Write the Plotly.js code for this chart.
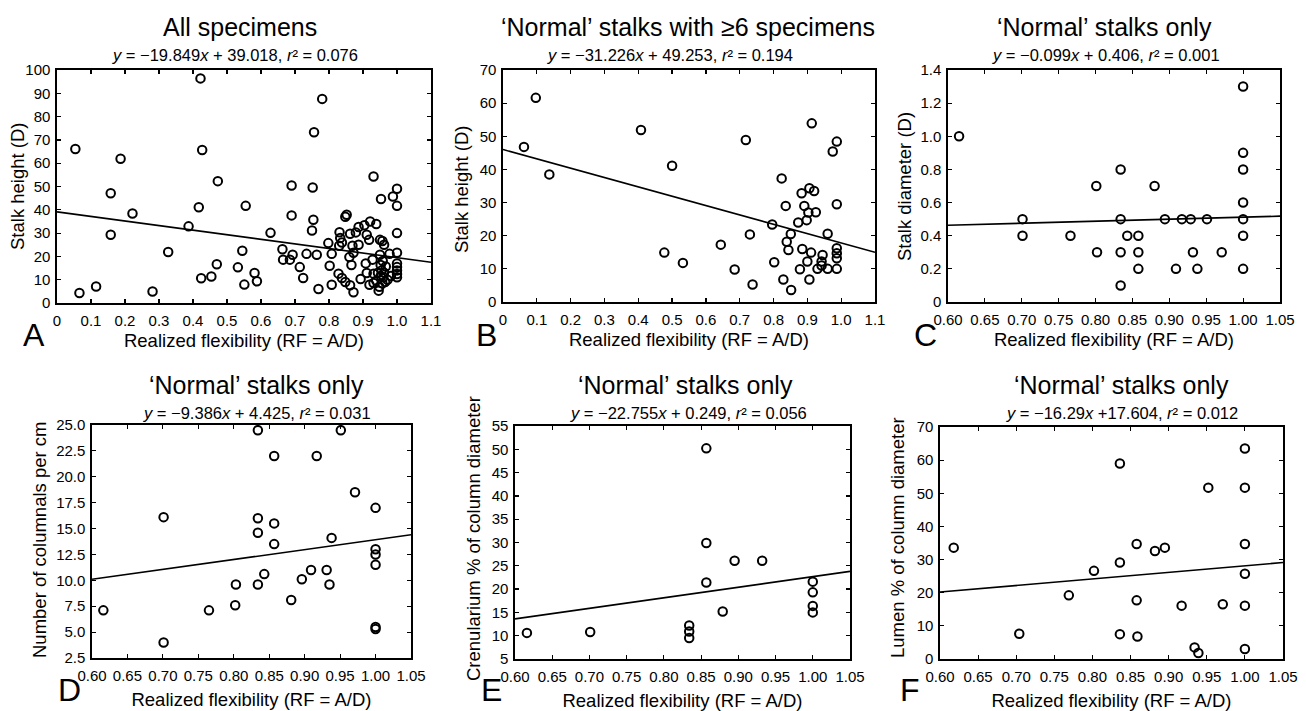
<!DOCTYPE html>
<html>
<head>
<meta charset="utf-8">
<script src="https://cdn.plot.ly/plotly-3.0.1.min.js"></script>
<style>html,body{margin:0;padding:0;background:#fff;}#chart{width:1306px;height:711px;}</style>
</head>
<body>
<div id="chart"></div>
<script>
// ---------- DATA ----------
const aX = [0.054,0.066,0.115,0.158,0.158,0.187,0.222,0.281,0.327,0.387,0.417,0.422,0.424,0.427,0.454,0.470,0.473,0.532,0.545,0.551,0.555,0.581,0.588,0.628,0.663,0.665,0.685,
  0.690,0.690,0.693,0.714,0.724,0.734,0.750,0.754,0.752,0.756,0.764,0.769,0.780,0.798,0.802,0.808,0.808,0.828,0.830,0.831,0.833,0.838,0.838,0.848,0.848,0.852,0.860,0.862,0.862,0.866,0.869,0.872,0.872,0.879,0.887,0.887,0.893,0.904,0.908,0.911,0.911,0.918,0.919,0.921,0.928,0.931,0.931,0.931,0.939,0.939,0.946,0.950,0.950,0.952,0.952,0.953,0.957,0.957,0.962,0.962,0.967,0.972,0.978,0.982,0.988,1.0,1.0,1.0,1.0,1.0,1.0,1.0,1.0,1.0,
  0.944,0.948,0.955,0.958,0.960,0.965];
const aY = [66.1,4.3,7.1,47.1,29.3,61.9,38.4,4.9,21.9,32.9,41.1,96.4,10.6,65.7,11.4,16.6,52.3,15.3,22.4,7.9,41.7,12.9,9.3,30.1,23.1,18.6,18.6,
  50.4,37.6,20.7,15.4,10.7,21.1,31.1,35.7,49.6,73.3,20.7,6.0,87.6,25.7,16.0,21.1,7.8,12.6,24.6,30.4,27.9,26.0,10.7,9.0,37.0,37.9,19.7,29.7,7.6,16.3,24.6,21.6,4.6,30.3,32.6,25.0,10.3,33.4,17.0,29.3,12.9,27.1,7.8,35.0,18.6,54.3,12.6,8.6,33.9,9.6,5.3,27.1,20.7,16.3,11.6,44.6,26.6,8.5,25.0,13.0,15.7,10.0,21.1,11.6,45.7,49.0,41.7,30.0,21.6,17.0,15.4,14.0,12.4,11.0,
  13.0,7.0,14.0,18.0,11.0,9.0];
const aFitX = [0, 1.1];
const aFitY = [39.1, 17.5];

const bX = [0.062,0.097,0.137,0.408,0.477,0.500,0.532,0.644,0.685,
  0.718,0.730,0.738,0.796,0.802,0.824,0.829,0.836,0.839,0.844,0.851,0.852,0.873,0.878,0.883,0.885,0.891,0.898,0.900,0.903,0.906,0.906,0.911,0.913,0.920,0.925,0.930,0.942,0.942,0.945,0.960,0.960,0.975,0.987,0.987,0.987,0.987,0.987,0.987];
const bY = [46.8,61.6,38.5,51.9,14.9,41.1,11.8,17.3,9.8,
  48.9,20.4,5.3,23.4,12.0,37.3,6.8,29.0,18.2,15.7,20.5,3.6,24.0,9.9,32.8,16.0,29.0,24.7,12.2,27.0,34.3,6.8,14.9,53.9,33.5,27.1,10.0,12.2,11.0,14.2,20.6,10.0,45.4,48.4,29.5,16.2,14.7,13.2,10.0];
const bFitX = [0, 1.1];
const bFitY = [46.0, 15.0];

const cX = [0.615,0.701,0.701,0.766,0.801,0.802,0.834,0.834,0.834,0.834,0.843,0.858,0.858,0.858,0.880,0.894,0.909,0.917,0.929,0.932,0.938,0.951,0.971,1.0,1.0,1.0,1.0,1.0,1.0,1.0];
const cY = [1.0,0.5,0.4,0.4,0.7,0.3,0.8,0.5,0.3,0.1,0.4,0.4,0.3,0.2,0.7,0.5,0.2,0.5,0.5,0.3,0.2,0.5,0.3,1.3,0.9,0.8,0.6,0.5,0.4,0.2];
const cFitX = [0.6, 1.05];
const cFitY = [0.463, 0.518];

const dX = [0.616,0.701,0.701,0.765,0.802,0.803,0.834,0.834,0.834,0.834,0.843,0.857,0.857,0.857,0.881,0.896,0.909,0.917,0.931,0.935,0.938,0.951,0.971,1.0,1.0,1.0,1.0,1.0,1.0];
const dY = [7.1,16.1,4.0,7.1,7.6,9.6,24.5,16.0,14.6,9.6,10.6,22.0,15.5,13.5,8.1,10.1,11.0,22.0,11.0,9.6,14.1,24.5,18.5,17.0,13.0,12.5,11.5,5.5,5.3];
const dFitX = [0.6, 1.05];
const dFitY = [10.1, 14.4];

const eX = [0.616,0.701,0.834,0.834,0.834,0.857,0.857,0.857,0.879,0.895,0.932,1.0,1.0,1.0,1.0];
const eY = [10.6,10.8,12.2,10.9,9.5,50.2,29.9,21.4,15.2,26.1,26.1,21.6,19.3,16.4,15.0];
const eFitX = [0.6, 1.05];
const eFitY = [13.6, 23.8];

const fX = [0.618,0.704,0.769,0.802,0.836,0.836,0.836,0.858,0.858,0.859,0.882,0.895,0.917,0.934,0.939,0.952,0.971,1.0,1.0,1.0,1.0,1.0,1.0];
const fY = [33.6,7.6,19.2,26.6,59.0,29.1,7.5,34.7,17.7,6.8,32.6,33.6,16.1,3.5,1.8,51.7,16.5,63.5,51.7,34.7,25.7,16.1,3.0];
const fFitX = [0.6, 1.05];
const fFitY = [20.2, 29.1];

// ---------- TEXT ----------
const panelLetters = ["A","B","C","D","E","F"];
const panelTitles = ["All specimens","\u2018Normal\u2019 stalks with \u22656 specimens","\u2018Normal\u2019 stalks only",
  "\u2018Normal\u2019 stalks only","\u2018Normal\u2019 stalks only","\u2018Normal\u2019 stalks only"];
const panelEquations = [
  "<i>y</i> = \u221219.849<i>x</i> + 39.018, <i>r</i>\u00b2 = 0.076",
  "<i>y</i> = \u221231.226<i>x</i> + 49.253, <i>r</i>\u00b2 = 0.194",
  "<i>y</i> = \u22120.099<i>x</i> + 0.406, <i>r</i>\u00b2 = 0.001",
  "<i>y</i> = \u22129.386<i>x</i> + 4.425, <i>r</i>\u00b2 = 0.031",
  "<i>y</i> = \u221222.755<i>x</i> + 0.249, <i>r</i>\u00b2 = 0.056",
  "<i>y</i> = \u221216.29<i>x</i> +17.604, <i>r</i>\u00b2 = 0.012"];
const xAxisTitle = "Realized flexibility (RF = A/D)";
const yAxisTitles = ["Stalk height (D)","Stalk height (D)","Stalk diameter (D)",
  "Number of columnals per cm","Crenularium % of column diameter","Lumen % of column diameter"];

const xTicksWide = [0,0.1,0.2,0.3,0.4,0.5,0.6,0.7,0.8,0.9,1.0,1.1];
const xTicksWideText = ["0","0.1","0.2","0.3","0.4","0.5","0.6","0.7","0.8","0.9","1.0","1.1"];
const xTicksNarrow = [0.6,0.65,0.7,0.75,0.8,0.85,0.9,0.95,1.0,1.05];
const xTicksNarrowText = ["0.60","0.65","0.70","0.75","0.80","0.85","0.90","0.95","1.00","1.05"];
const yTicksA = [0,10,20,30,40,50,60,70,80,90,100];
const yTicksB = [0,10,20,30,40,50,60,70];
const yTicksC = [0,0.2,0.4,0.6,0.8,1.0,1.2,1.4];
const yTicksCText = ["0","0.2","0.4","0.6","0.8","1.0","1.2","1.4"];
const yTicksD = [2.5,5,7.5,10,12.5,15,17.5,20,22.5,25];
const yTicksDText = ["2.5","5.0","7.5","10.0","12.5","15.0","17.5","20.0","22.5","25.0"];
const yTicksE = [5,10,15,20,25,30,35,40,45,50,55];
const yTicksF = [0,10,20,30,40,50,60,70];

// ---------- LAYOUT ----------
const W = 1306, H = 711;
const FONT = "Liberation Sans, Arial, Helvetica, sans-serif";
// pixel boxes of each plot area [left, right, top, bottom]
const boxes = [
  [57,431,70,303],[503,875,70,302],[948,1280,70,302],
  [92,411,425,658],[515,850,426,659],[940,1283,427,659]];
const titlePos = [[240,27],[688,27],[1104,27],[256,385],[685,385],[1121,385]];
const eqPos = [[235,55],[670,55],[1106,55],[257,413],[688,413],[1122,413]];
const letterPos = [[34,335],[487,335],[925,335],[69,690],[491,690],[910,690]];
const yTitlePos = [[17,186],[462,189],[905,187],[39,540],[473,538],[897,538]];
const xTitleStandoff = [6,6,6,10,10,10];

const series = [[aX,aY,aFitX,aFitY],[bX,bY,bFitX,bFitY],[cX,cY,cFitX,cFitY],[dX,dY,dFitX,dFitY],[eX,eY,eFitX,eFitY],[fX,fY,fFitX,fFitY]];
const xRanges = [[0,1.1],[0,1.1],[0.6,1.05],[0.6,1.05],[0.6,1.05],[0.6,1.05]];
const yRanges = [[0,100],[0,70],[0,1.4],[2.5,25],[5,55],[0,70]];
const yTickVals = [yTicksA,yTicksB,yTicksC,yTicksD,yTicksE,yTicksF];
const yTickText = [yTicksA.map(String),yTicksB.map(String),yTicksCText,yTicksDText,yTicksE.map(String),yTicksF.map(String)];

const traces = [];
const layout = {
  width: W, height: H,
  margin: {l:0,r:0,t:0,b:0},
  paper_bgcolor: "#fff", plot_bgcolor: "#fff",
  showlegend: false,
  font: {family: FONT, color: "#000", size: 15},
  annotations: []
};

for (let i = 0; i < 6; i++) {
  const n = i === 0 ? "" : String(i + 1);
  const xa = "x" + n, ya = "y" + n;
  const [X, Y, FX, FY] = series[i];
  traces.push({x: X, y: Y, xaxis: xa, yaxis: ya, type: "scatter", mode: "markers",
    marker: {symbol: "circle-open", size: 8.5, color: "#000", line: {width: 2, color: "#000"}},
    hoverinfo: "x+y"});
  traces.push({x: FX, y: FY, xaxis: xa, yaxis: ya, type: "scatter", mode: "lines",
    line: {color: "#000", width: 1.6}, hoverinfo: "skip"});
  const b = boxes[i];
  const wide = i < 2;
  const common = {showline: true, linecolor: "#000", linewidth: 1.6, mirror: "ticks",
    ticks: "inside", ticklen: 4, tickwidth: 1.2, tickcolor: "#000",
    showgrid: false, zeroline: false, tickmode: "array",
    tickfont: {family: FONT, size: 15, color: "#000"}};
  layout["xaxis" + n] = Object.assign({}, common, {
    domain: [b[0]/W, b[1]/W], anchor: ya, range: xRanges[i],
    tickvals: wide ? xTicksWide : xTicksNarrow,
    ticktext: wide ? xTicksWideText : xTicksNarrowText,
    ticklabelstandoff: 3,
    title: {text: xAxisTitle, font: {family: FONT, size: 18.5, color: "#000"}, standoff: xTitleStandoff[i]}
  });
  layout["yaxis" + n] = Object.assign({}, common, {
    domain: [1 - b[3]/H, 1 - b[2]/H], anchor: xa, range: yRanges[i],
    tickvals: yTickVals[i], ticktext: yTickText[i],
    ticklabelstandoff: 2
  });
  layout.annotations.push({xref: "paper", yref: "paper", x: yTitlePos[i][0]/W, y: 1 - yTitlePos[i][1]/H,
    xanchor: "center", yanchor: "middle", showarrow: false, textangle: -90, text: yAxisTitles[i],
    font: {family: FONT, size: 18.5, color: "#000"}});
  layout.annotations.push({xref: "paper", yref: "paper", x: titlePos[i][0]/W, y: 1 - titlePos[i][1]/H,
    xanchor: "center", yanchor: "middle", showarrow: false, text: panelTitles[i],
    font: {family: FONT, size: 25, color: "#000"}});
  layout.annotations.push({xref: "paper", yref: "paper", x: eqPos[i][0]/W, y: 1 - eqPos[i][1]/H,
    xanchor: "center", yanchor: "middle", showarrow: false, text: panelEquations[i],
    font: {family: FONT, size: 16.5, color: "#000"}});
  layout.annotations.push({xref: "paper", yref: "paper", x: letterPos[i][0]/W, y: 1 - letterPos[i][1]/H,
    xanchor: "center", yanchor: "middle", showarrow: false, text: panelLetters[i],
    font: {family: FONT, size: 32, color: "#000"}});
}

Plotly.newPlot("chart", traces, layout, {displayModeBar: false, staticPlot: true});
</script>
</body>
</html>
